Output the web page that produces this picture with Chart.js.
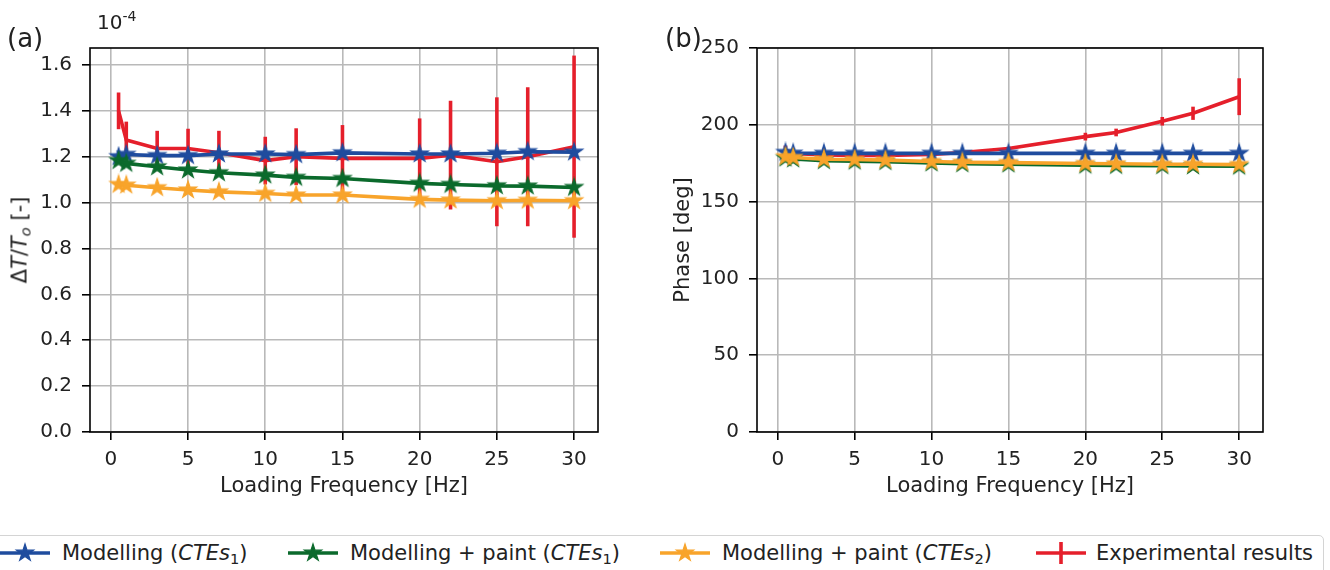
<!DOCTYPE html>
<html>
<head>
  <title>Amplitude and phase vs loading frequency</title>
  <script src="https://cdn.jsdelivr.net/npm/chart.js"></script>
  <style>
    body { margin: 0; width: 1330px; height: 570px; overflow: hidden; background: #fff;
           font-family: 'DejaVu Sans', sans-serif; color: #222; position: relative; }
    canvas { position: absolute; top: 0; }
    .lbl { position: absolute; white-space: nowrap; line-height: 1; }
    .legend { position: absolute; left: -10px; top: 535px; width: 1334px; height: 60px;
              border: 1.6px solid #d4d4d4; border-radius: 5px; box-sizing: border-box; }
    .item { position: absolute; top: 540px; height: 26px; font-size: 21px; line-height: 26px; white-space: nowrap; }
    .item canvas { position: absolute; top: 0; left: 0; }
    sub { font-size: 70%; vertical-align: -0.25em; line-height: 0; }
    sup { font-size: 70%; vertical-align: 0.55em; line-height: 0; }
  </style>
</head>
<body>
  <canvas id="chartA" width="620" height="520" style="left:0"></canvas>
  <canvas id="chartB" width="710" height="520" style="left:620px"></canvas>

  <div class="lbl" style="left:7px; top:25px; font-size:26px">(a)</div>
  <div class="lbl" style="left:665px; top:25px; font-size:26px">(b)</div>
  <div class="lbl" style="left:97px; top:12px; font-size:20px">10<sup>-4</sup></div>
  <div class="lbl" style="left:20px; top:240px; font-size:21px; transform: translate(-50%,-50%) rotate(-90deg)">&Delta;<i>T</i>/<i>T</i><sub><i>o</i></sub> [-]</div>

  <div class="legend"></div>
  <div class="item" style="left:0px"><canvas id="lg0" width="52" height="26"></canvas><span style="margin-left:62px">Modelling (<i>CTEs</i><sub>1</sub>)</span></div>
  <div class="item" style="left:288px"><canvas id="lg1" width="52" height="26"></canvas><span style="margin-left:62px">Modelling + paint (<i>CTEs</i><sub>1</sub>)</span></div>
  <div class="item" style="left:660px"><canvas id="lg2" width="52" height="26"></canvas><span style="margin-left:62px">Modelling + paint (<i>CTEs</i><sub>2</sub>)</span></div>
  <div class="item" style="left:1036px"><canvas id="lg3" width="52" height="26"></canvas><span style="margin-left:60px">Experimental results</span></div>

  <script>
    // loading frequency [Hz]
    const freq = [0.5, 1, 3, 5, 7, 10, 12, 15, 20, 22, 25, 27, 30];

    // (a) amplitude dT/To, in units of 1e-4
    const ampModel = [1.200, 1.210, 1.205, 1.205, 1.212, 1.212, 1.209, 1.217, 1.212, 1.212, 1.215, 1.222, 1.220];
    const ampPaint1 = [1.183, 1.171, 1.156, 1.142, 1.130, 1.120, 1.110, 1.105, 1.084, 1.079, 1.073, 1.072, 1.066];
    const ampPaint2 = [1.079, 1.076, 1.065, 1.055, 1.047, 1.040, 1.033, 1.033, 1.014, 1.011, 1.008, 1.010, 1.008];
    const ampExp = [1.400, 1.273, 1.236, 1.236, 1.217, 1.183, 1.200, 1.193, 1.193, 1.207, 1.178, 1.200, 1.244];
    const ampErr = [0.080, 0.080, 0.077, 0.086, 0.096, 0.104, 0.124, 0.145, 0.174, 0.237, 0.281, 0.303, 0.397];

    // (b) phase [deg]
    const phaseModel = [182.0, 181.5, 181.4, 181.4, 181.4, 181.4, 181.4, 181.4, 181.4, 181.4, 181.4, 181.4, 181.4];
    const phasePaint1 = [178.3, 177.7, 176.6, 176.3, 176.0, 175.1, 174.6, 174.4, 173.7, 173.5, 173.3, 173.2, 173.0];
    const phasePaint2 = [179.2, 178.7, 177.6, 177.4, 177.0, 176.1, 175.6, 175.4, 174.8, 174.6, 174.3, 174.3, 174.1];
    const phaseExp = [183.5, 181.4, 180.3, 180.0, 180.0, 180.7, 182.0, 184.6, 192.3, 195.0, 202.3, 207.5, 218.3];
    const phaseErr = [3.0, 1.5, 1.0, 1.0, 1.0, 1.0, 1.0, 1.2, 2.5, 2.5, 2.8, 4.3, 12.0];

    const xTicks = [0, 5, 10, 15, 20, 25, 30];
    const labels = ['Modelling (CTEs1)', 'Modelling + paint (CTEs1)', 'Modelling + paint (CTEs2)', 'Experimental results'];

    const BLUE = '#1f4c9e', GREEN = '#0b6a2c', ORANGE = '#f8a42b', RED = '#e51f2b';
    const FONT = "'DejaVu Sans', sans-serif";
    const TXT = '#222';
    const LW = 3.6;

    function makeStar(color, r) {
      const c = document.createElement('canvas');
      const s = Math.ceil(2 * r + 4);
      c.width = s; c.height = s;
      const g = c.getContext('2d');
      g.beginPath();
      for (let i = 0; i < 10; i++) {
        const rad = i % 2 === 0 ? r : r * 0.382;
        const a = -Math.PI / 2 + i * Math.PI / 5;
        g.lineTo(s / 2 + rad * Math.cos(a), s / 2 + rad * Math.sin(a));
      }
      g.closePath();
      g.fillStyle = color; g.fill();
      g.strokeStyle = color; g.lineWidth = 1.2; g.stroke();
      return c;
    }

    const stars = { blue: makeStar(BLUE, 9), green: makeStar(GREEN, 9), orange: makeStar(ORANGE, 9) };

    function pts(ys) { return freq.map((f, i) => ({ x: f, y: ys[i] })); }

    // draws the vertical error bars of the experimental series
    const errorBars = {
      id: 'errorBars',
      beforeDatasetsDraw(chart, args, opts) {
        const { ctx, chartArea, scales } = chart;
        ctx.save();
        ctx.beginPath();
        ctx.rect(chartArea.left, chartArea.top, chartArea.right - chartArea.left, chartArea.bottom - chartArea.top);
        ctx.clip();
        ctx.strokeStyle = RED;
        ctx.lineWidth = LW;
        opts.values.forEach((v, i) => {
          const x = scales.x.getPixelForValue(freq[i]);
          ctx.beginPath();
          ctx.moveTo(x, scales.y.getPixelForValue(v - opts.errors[i]));
          ctx.lineTo(x, scales.y.getPixelForValue(v + opts.errors[i]));
          ctx.stroke();
        });
        ctx.restore();
      }
    };

    // full box around the plot area
    const frame = {
      id: 'frame',
      afterDraw(chart) {
        const { ctx, chartArea } = chart;
        ctx.save();
        ctx.strokeStyle = '#000';
        ctx.lineWidth = 1.6;
        ctx.strokeRect(chartArea.left, chartArea.top, chartArea.right - chartArea.left, chartArea.bottom - chartArea.top);
        ctx.restore();
      }
    };

    function datasets(model, paint1, paint2, exp) {
      const line = { borderWidth: LW, tension: 0, pointRadius: 9, pointHoverRadius: 9 };
      return [
        Object.assign({ label: labels[3], data: pts(exp), borderColor: RED, backgroundColor: RED, order: 4 }, line, { pointRadius: 0 }),
        Object.assign({ label: labels[0], data: pts(model), borderColor: BLUE, backgroundColor: BLUE, pointStyle: stars.blue, order: 3 }, line),
        Object.assign({ label: labels[1], data: pts(paint1), borderColor: GREEN, backgroundColor: GREEN, pointStyle: stars.green, order: 2 }, line),
        Object.assign({ label: labels[2], data: pts(paint2), borderColor: ORANGE, backgroundColor: ORANGE, pointStyle: stars.orange, order: 1 }, line)
      ];
    }

    function options(cfg) {
      return {
        responsive: false,
        animation: false,
        devicePixelRatio: 1,
        layout: { padding: { left: 0, top: 48, right: cfg.padRight, bottom: 0 } },
        plugins: {
          legend: { display: false },
          tooltip: { enabled: false },
          errorBars: { values: cfg.exp, errors: cfg.err }
        },
        scales: {
          x: {
            type: 'linear',
            min: -1.35, max: 31.55,
            afterFit: s => { s.height = 88; },
            afterBuildTicks: s => { s.ticks = xTicks.map(v => ({ value: v })); },
            ticks: { font: { family: FONT, size: 20 }, color: TXT, padding: 8, maxRotation: 0 },
            grid: { color: '#b9b9b9', lineWidth: 1.6, tickLength: 8, tickColor: '#000', tickWidth: 1.6 },
            border: { display: false },
            title: { display: true, text: 'Loading Frequency [Hz]', font: { family: FONT, size: 21 }, color: TXT, padding: { top: 0, bottom: 21 } }
          },
          y: {
            min: cfg.yMin, max: cfg.yMax,
            afterFit: s => { s.width = cfg.yWidth; },
            afterBuildTicks: s => { s.ticks = cfg.yTicks.map(v => ({ value: v })); },
            ticks: { font: { family: FONT, size: 20 }, color: TXT, padding: 10, callback: cfg.fmt },
            grid: { color: '#b9b9b9', lineWidth: 1.6, tickLength: 8, tickColor: '#000', tickWidth: 1.6 },
            border: { display: false },
            title: cfg.yTitle
              ? { display: true, text: cfg.yTitle, font: { family: FONT, size: 21 }, color: TXT, padding: { top: 51, bottom: 0 } }
              : { display: false }
          }
        }
      };
    }

    const ampTicks = [0, 0.2, 0.4, 0.6, 0.8, 1.0, 1.2, 1.4, 1.6];
    const phaseTicks = [0, 50, 100, 150, 200, 250];

    new Chart(document.getElementById('chartA'), {
      type: 'line',
      data: { datasets: datasets(ampModel, ampPaint1, ampPaint2, ampExp) },
      options: options({ padRight: 22, yWidth: 90, yMin: 0, yMax: 1.674, yTicks: ampTicks,
                         fmt: v => v.toFixed(1), exp: ampExp, err: ampErr }),
      plugins: [errorBars, frame]
    });

    new Chart(document.getElementById('chartB'), {
      type: 'line',
      data: { datasets: datasets(phaseModel, phasePaint1, phasePaint2, phaseExp) },
      options: options({ padRight: 67, yWidth: 137, yMin: 0, yMax: 250, yTicks: phaseTicks,
                         fmt: v => String(v), exp: phaseExp, err: phaseErr, yTitle: 'Phase [deg]' }),
      plugins: [errorBars, frame]
    });

    // legend samples
    [[BLUE, stars.blue], [GREEN, stars.green], [ORANGE, stars.orange], [RED, null]].forEach((s, i) => {
      const g = document.getElementById('lg' + i).getContext('2d');
      g.strokeStyle = s[0]; g.lineWidth = LW;
      g.beginPath(); g.moveTo(0, 13); g.lineTo(50, 13); g.stroke();
      if (s[1]) {
        g.drawImage(s[1], 25 - s[1].width / 2, 13 - s[1].height / 2);
      } else {
        g.beginPath(); g.moveTo(25, 2); g.lineTo(25, 24); g.stroke();
      }
    });
  </script>
</body>
</html>
